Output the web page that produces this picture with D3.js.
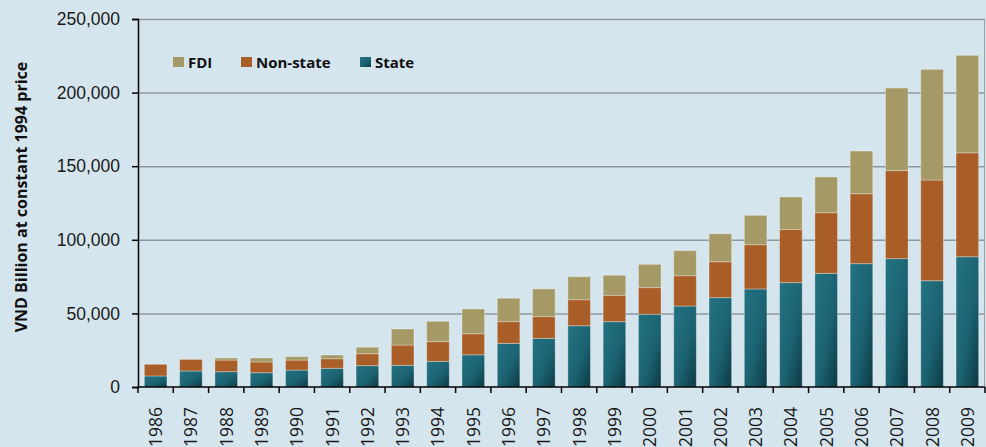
<!DOCTYPE html>
<html>
<head>
<meta charset="utf-8">
<script src="https://cdn.jsdelivr.net/npm/d3@7"></script>
<style>
  body { margin: 0; background: #d5e5ee; }
  svg { display: block; font-family: "Open Sans", sans-serif; }
</style>
</head>
<body>
<div id="chart"></div>
<script>
const years = ["1986","1987","1988","1989","1990","1991","1992","1993","1994","1995","1996","1997",
  "1998","1999","2000","2001","2002","2003","2004","2005","2006","2007","2008","2009"];
const state = [7500, 10900, 10400, 9700, 11500, 12700, 14500, 14700, 17400, 21900, 29600, 33000,
  41600, 44400, 49400, 55000, 60700, 66600, 70900, 77200, 83800, 87200, 72200, 88500];
const nonState = [7900, 7900, 7900, 7300, 6800, 6500, 8100, 13800, 13400, 14300, 14800, 14800,
  17700, 17900, 18100, 20600, 24400, 30100, 36200, 41200, 47500, 59800, 68400, 70600];
const fdi = [0, 300, 1400, 2700, 2300, 2500, 4400, 10900, 13800, 16800, 15900, 18800,
  15600, 13600, 15800, 17000, 19000, 19900, 22000, 24300, 29000, 56100, 75200, 66200];
const groups = ["State", "Non-state", "FDI"];
const yTicks = [0, 50000, 100000, 150000, 200000, 250000];

const width = 986, height = 447;
const margin = { top: 19, right: 1, bottom: 60, left: 138 };
const innerW = width - margin.left - margin.right;
const innerH = height - margin.top - margin.bottom;

const color = d3.scaleOrdinal().domain(groups).range(["url(#stateGrad)", "#a95e28", "#a59a65"]);

const rows = years.map((y, i) => ({ year: y, "State": state[i], "Non-state": nonState[i], "FDI": fdi[i] }));
const stack = d3.stack().keys(groups)(rows);

const x = d3.scaleBand().domain(years).range([0, innerW]).paddingInner(0.36).paddingOuter(0.18);
const y = d3.scaleLinear().domain([0, 250000]).range([innerH, 0]);

const svg = d3.select("#chart").append("svg").attr("width", width).attr("height", height);

const defs = svg.append("defs");
const grad = defs.append("linearGradient").attr("id", "stateGrad")
  .attr("x1", "0").attr("y1", "0").attr("x2", "1").attr("y2", "1");
grad.append("stop").attr("offset", "0%").attr("stop-color", "#237282");
grad.append("stop").attr("offset", "55%").attr("stop-color", "#1c6372");
grad.append("stop").attr("offset", "100%").attr("stop-color", "#0c3a44");

const g = svg.append("g").attr("transform", "translate(" + margin.left + "," + margin.top + ")");

// gridlines
g.append("g").selectAll("line").data(yTicks.filter(d => d > 0)).enter().append("line")
  .attr("x1", 0).attr("x2", innerW)
  .attr("y1", d => y(d) + 0.5).attr("y2", d => y(d) + 0.5)
  .attr("stroke", "#8f979c").attr("stroke-width", 1.5);

// right border
g.append("line").attr("x1", innerW - 0.5).attr("x2", innerW - 0.5)
  .attr("y1", 0).attr("y2", innerH).attr("stroke", "#9aa3a8");

// bars
g.selectAll("g.layer").data(stack).enter().append("g").attr("class", "layer")
  .attr("fill", d => color(d.key))
  .selectAll("rect").data(d => d).enter().append("rect")
  .attr("x", d => x(d.data.year))
  .attr("width", x.bandwidth())
  .attr("y", d => y(d[1]))
  .attr("height", d => y(d[0]) - y(d[1]))
  .attr("stroke", "rgba(255,255,255,0.3)")
  .attr("stroke-width", 1);

// y axis
const yAxis = g.append("g")
  .call(d3.axisLeft(y).tickValues(yTicks).tickSize(6).tickPadding(12).tickFormat(d3.format(",")));
yAxis.select(".domain").attr("stroke", "#000").attr("stroke-width", 1.5);
yAxis.selectAll(".tick line").attr("stroke", "#000").attr("stroke-width", 1.5);
yAxis.selectAll("text").attr("font-size", 17.5).attr("fill", "#1a1a1a");

// x axis
const xAxisG = g.append("g").attr("transform", "translate(0," + innerH + ")");
xAxisG.append("line").attr("x1", 0).attr("x2", innerW).attr("stroke", "#000").attr("stroke-width", 1.5);
xAxisG.selectAll("line.tk").data(d3.range(years.length + 1)).enter().append("line").attr("class", "tk")
  .attr("x1", i => i * x.step()).attr("x2", i => i * x.step())
  .attr("y1", 0).attr("y2", 6).attr("stroke", "#000").attr("stroke-width", 1.5);
xAxisG.selectAll("text").data(years).enter().append("text")
  .attr("transform", d => "translate(" + (x(d) + x.bandwidth() / 2 + 6.5) + ",20) rotate(-90)")
  .attr("text-anchor", "end")
  .attr("font-size", 17.5).attr("fill", "#1a1a1a")
  .text(d => d);

// y label
svg.append("text")
  .attr("transform", "translate(27,197) rotate(-90)")
  .attr("text-anchor", "middle")
  .attr("font-size", 16).attr("font-weight", "bold").attr("fill", "#111")
  .text("VND Billion at constant 1994 price");

// legend
const legendX = [173, 241, 360];
const legendOrder = ["FDI", "Non-state", "State"];
const legend = svg.selectAll("g.legend").data(legendOrder).enter().append("g").attr("class", "legend")
  .attr("transform", (d, i) => "translate(" + legendX[i] + ",57)");
legend.append("rect").attr("width", 11).attr("height", 10).attr("fill", d => color(d));
legend.append("text").attr("x", 15).attr("y", 10.5)
  .attr("font-size", 15).attr("font-weight", "bold").attr("fill", "#111")
  .text(d => d);
</script>
</body>
</html>
